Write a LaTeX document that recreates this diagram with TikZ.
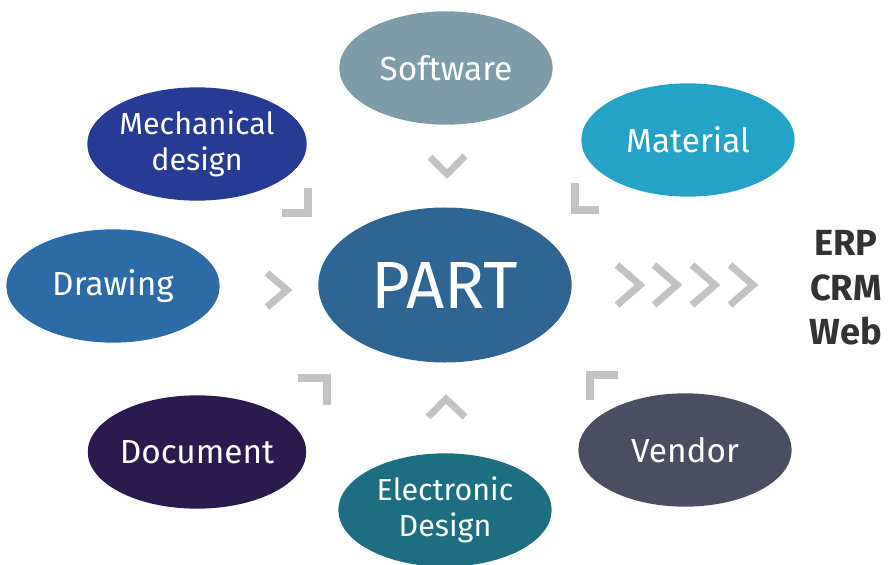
\documentclass[tikz,border=0pt]{standalone}
\usepackage{fontspec}
\setmainfont{Fira Sans}
\usetikzlibrary{shapes.geometric}
\definecolor{partcol}{HTML}{2F6593}
\definecolor{softcol}{HTML}{7E9CA7}
\definecolor{mechcol}{HTML}{273A94}
\definecolor{matcol}{HTML}{25A3C6}
\definecolor{drawcol}{HTML}{2D6BA6}
\definecolor{doccol}{HTML}{2A1A4E}
\definecolor{eleccol}{HTML}{1C6E80}
\definecolor{vendcol}{HTML}{4A4E60}
\definecolor{chevcol}{HTML}{C2C2C2}
\definecolor{syscol}{HTML}{333333}
\begin{document}
\begin{tikzpicture}[x=0.03cm, y=-0.03cm,
  blob/.style={ellipse, inner sep=0pt, text=white, align=center,
    minimum width=6.4cm, minimum height=3.4cm, font=\fontsize{28.5}{30}\selectfont},
  twoline/.style={font=\fontsize{26}{31}\selectfont},
  chev/.style={draw=chevcol, line width=6pt, line join=miter},
  sys/.style={align=center, text=syscol, font=\bfseries\fontsize{31}{38}\selectfont}
  ]
  \useasboundingbox (0,0) rectangle (888,565);

  \node[blob, fill=partcol, minimum width=7.6cm, minimum height=4.65cm,
    font=\fontsize{57}{57}\selectfont] (part) at (445,285) {PART};

  \node[blob, fill=softcol] (soft) at (446,68) {Software};
  \node[blob, twoline, fill=mechcol] (mech) at (197,144) {Mechanical\\design};
  \node[blob, fill=matcol] (mat) at (688,140) {Material};
  \node[blob, fill=drawcol] (draw) at (113,286) {Drawing};
  \node[blob, fill=doccol] (doc) at (197,452) {Document};
  \node[blob, twoline, fill=eleccol] (elec) at (445,510) {Electronic\\Design};
  \node[blob, fill=vendcol] (vend) at (685,450) {Vendor};

  \node[sys] (sys) at (846,288) {ERP\\CRM\\Web};

  % marks around the center
  \draw[chev] (430,157) -- (447,174) -- (465,156);
  \draw[chev] (308,188) -- (308,213) -- (282,213);
  \draw[chev] (575,183) -- (575,210) -- (599,210);
  \draw[chev] (267,273) -- (287,290) -- (267,307);
  \draw[chev] (298,378) -- (327,378) -- (327,405);
  \draw[chev] (618,375) -- (590,375) -- (590,400);
  \draw[chev] (428,417) -- (446,399) -- (465,417);

  % arrows to the systems
  \foreach \x in {640,677,715,753}
    \draw[chev] (\x-23,265) -- (\x,285) -- (\x-23,305);
\end{tikzpicture}
\end{document}
